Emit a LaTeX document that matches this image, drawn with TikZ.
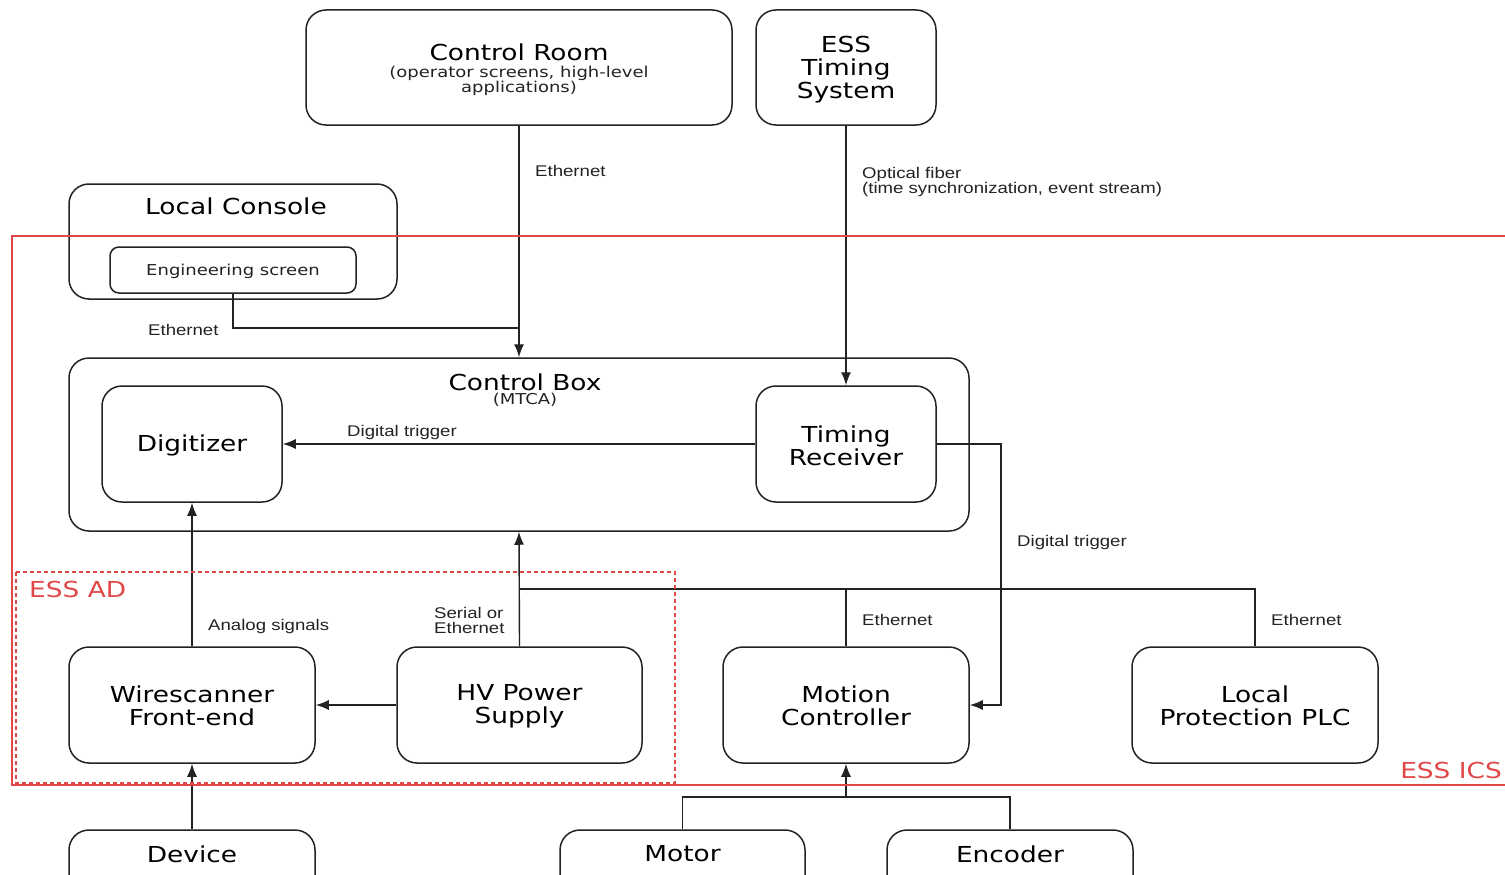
\documentclass[tikz,border=0pt]{standalone}
\usepackage{fontspec}
\usetikzlibrary{arrows.meta,calc}
\newfontfamily\djf[FakeStretch=1.2]{DejaVu Sans}
\newfontfamily\libf[FakeStretch=1.2]{Liberation Sans}
\definecolor{ink}{HTML}{222222}
\definecolor{essred}{HTML}{E04848}
\tikzset{
  box/.style={draw=ink, line width=1.5pt, rounded corners=20pt, inner sep=0pt, align=center, text=black, font=\djf\fontsize{22}{23}\selectfont},
  smallbox/.style={box, rounded corners=9pt, font=\djf\fontsize{15}{15}\selectfont},
  big/.style={inner sep=0pt, align=center, text=black, font=\djf\fontsize{22}{23}\selectfont},
  sub/.style={inner sep=0pt, align=center, text=ink, font=\djf\fontsize{15}{15}\selectfont},
  lab/.style={inner sep=0pt, align=left, text=ink, font=\libf\fontsize{15.5}{15}\selectfont},
  conn/.style={draw=ink, line width=1.4pt},
  arr/.style={conn, -{Latex[length=13pt,width=10pt]}},
  redlab/.style={inner sep=0pt, text=essred, font=\djf\fontsize{22}{23}\selectfont},
}
\begin{document}
\begin{tikzpicture}[x=1pt,y=-1pt]
\useasboundingbox (0,0) rectangle (1505,875);
\clip (0,0) rectangle (1505,875);
% boxes
\node[box, minimum width=426pt, minimum height=115pt] (cr) at (519,67.5) {};
\node[big] at (519,52) {Control Room};
\node[sub] at (519,81) {(operator screens, high-level\\applications)};
\node[box, minimum width=180pt, minimum height=115pt] (ets) at (846,67.5) {};
\node[big] at (846,70) {ESS\\Timing\\System};
\node[box, minimum width=328pt, minimum height=115pt] (lc) at (233,241.5) {};
\node[big] at (236,206) {Local Console};
\node[smallbox, minimum width=246pt, minimum height=46pt] (es) at (233,270) {};
\node[sub] at (233,271) {Engineering screen};
\node[box, minimum width=900pt, minimum height=173pt] (cb) at (519,444.5) {};
\node[big] at (525,382) {Control Box};
\node[sub] at (525,400) {(MTCA)};
\node[box, minimum width=180pt, minimum height=116pt] (dig) at (192,444) {};
\node[big] at (192,445) {Digitizer};
\node[box, minimum width=180pt, minimum height=116pt] (tr) at (846,444) {};
\node[big] at (846,446) {Timing\\Receiver};
\node[box, minimum width=246pt, minimum height=116pt] (wfe) at (192,705) {};
\node[big] at (192,706) {Wirescanner\\Front-end};
\node[box, minimum width=245pt, minimum height=116pt] (hv) at (519.5,705) {};
\node[big] at (519.5,706) {HV Power\\Supply};
\node[box, minimum width=246pt, minimum height=116pt] (mc) at (846,705) {};
\node[big] at (846,706) {Motion\\Controller};
\node[box, minimum width=246pt, minimum height=116pt] (plc) at (1255,705) {};
\node[big] at (1255,706) {Local\\Protection PLC};
\node[box, minimum width=246pt, minimum height=80pt] (dev) at (192,870) {};
\node[big] at (192,854) {Device};
\node[box, minimum width=245pt, minimum height=80pt] (mot) at (682.5,870) {};
\node[big] at (682.5,854) {Motor};
\node[box, minimum width=246pt, minimum height=80pt] (enc) at (1010,870) {};
\node[big] at (1010,854) {Encoder};
% coordinates
\coordinate (ethj) at (519,328);
\coordinate (tt) at (1001,444);
\coordinate (busa) at (519,589);
\coordinate (busb) at (846,589);
\coordinate (mj) at (846,797);
% connectors
\draw[arr] (cr.south) -- (cb.north);
\draw[conn] (es.south) |- (ethj);
\draw[arr] (ets.south) -- (tr.north);
\draw[arr] (tr.west) -- (dig.east);
\draw[arr] (tr.east) -- (tt) |- (mc.east);
\draw[arr] (wfe.north) -- (dig.south);
\draw[arr] (hv.north) -- (cb.south);
\draw[conn] (mc.north) |- (busa);
\draw[conn] (plc.north) |- (busb);
\draw[arr] (hv.west) -- (wfe.east);
\draw[arr] (dev.north) -- (wfe.south);
\draw[conn] (mot.north) |- (mj);
\draw[conn] (enc.north) |- (mj);
\draw[arr] (mj) -- (mc.south);
% labels
\node[lab, anchor=west] at (535,171) {Ethernet};
\node[lab, anchor=north west] at (862,167) {Optical fiber\\(time synchronization, event stream)};
\node[lab, anchor=west] at (148,330) {Ethernet};
\node[lab, anchor=west] at (347,432) {Digital trigger};
\node[lab, anchor=west] at (1017,542) {Digital trigger};
\node[lab, anchor=west] at (208,626) {Analog signals};
\node[lab, anchor=north west] at (434,607) {Serial or\\Ethernet};
\node[lab, anchor=west] at (862,620) {Ethernet};
\node[lab, anchor=west] at (1271,620) {Ethernet};
% regions
\draw[essred, line width=1.8pt] (12,236) rectangle (1530,785);
\draw[essred, line width=1.6pt, dash pattern=on 4pt off 3pt] (16,572) rectangle (675,783);
\node[redlab, anchor=west] at (29,589) {ESS AD};
\node[redlab, anchor=east] at (1502,770) {ESS ICS};
\end{tikzpicture}
\end{document}
